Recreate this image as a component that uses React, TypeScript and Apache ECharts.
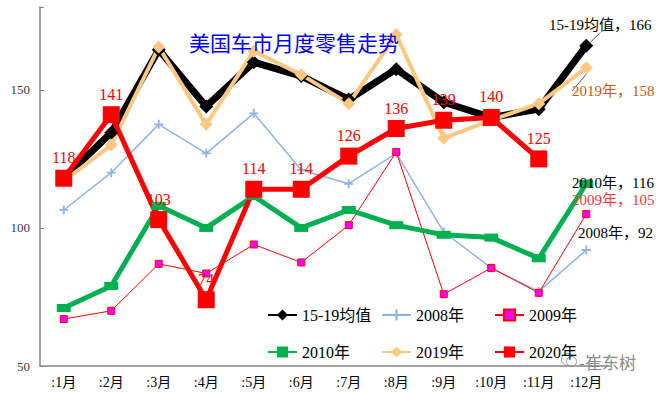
import React, { useEffect, useRef } from "react";
import * as echarts from "echarts";

const months = [":1月", ":2月", ":3月", ":4月", ":5月", ":6月", ":7月", ":8月", ":9月", ":10月", ":11月", ":12月"];
const avg1519 = [118, 134.5, 164.5, 144, 160, 155, 146.5, 157.5, 145.5, 140, 143, 166];
const y2008 = [106.5, 120, 137.5, 127, 141.5, 121, 116, 127, 98.5, 85.5, 77, 92];
const y2009 = [67, 70, 87, 83.5, 94, 87.5, 101, 127.5, 76, 85.5, 76.5, 105];
const y2010 = [71, 79, 108, 100, 111.5, 100, 106.5, 101, 97.5, 96.5, 89, 116];
const y2019 = [117, 130, 165.5, 137.5, 164, 155.5, 145, 170, 132.5, 139, 145, 158];
const y2020 = [118, 141, 103, 74, 114, 114, 126, 136, 139, 140, 125, null];
const yTicks = [50, 100, 150];

const SERIF = '"Times New Roman","Liberation Serif","Noto Sans CJK SC",serif';

function withEndLabel(vals: (number | null)[], text: string, color: string) {
  return vals.map((v, i) =>
    i === vals.length - 1
      ? {
          value: v,
          label: {
            show: true,
            formatter: text + "，{c}",
            color,
            fontSize: 15,
            fontFamily: SERIF,
          },
        }
      : v
  );
}

function endLayout(x: number, y: number) {
  return (p: any) =>
    p.dataIndex === 11 ? { x, y, align: "left", verticalAlign: "middle" } : {};
}

export default function App() {
  const ref = useRef<HTMLDivElement>(null);
  useEffect(() => {
    if (!ref.current) return;
    const chart = echarts.init(ref.current, undefined, { renderer: "svg" });
    const legendPos: [string, number, number][] = [
      ["15-19均值", 262, 302],
      ["2008年", 376, 302],
      ["2009年", 489, 302],
      ["2010年", 262, 339],
      ["2019年", 376, 339],
      ["2020年", 489, 339],
    ];
    chart.setOption({
      animation: false,
      backgroundColor: "#ffffff",
      title: {
        text: "美国车市月度零售走势",
        left: 184,
        top: 26,
        textStyle: {
          color: "#0000FF",
          fontSize: 21,
          fontWeight: "normal",
          fontFamily: '"Noto Sans CJK SC",sans-serif',
        },
      },
      legend: legendPos.map(([name, left, top]) => ({
        data: [name],
        left,
        top,
        itemWidth: 29,
        itemHeight: 14,
        textStyle: { fontSize: 16, fontFamily: SERIF, color: "#000" },
      })),
      grid: { left: 40, right: 51, top: 7, bottom: 27 },
      xAxis: {
        type: "category",
        data: months,
        axisLine: { lineStyle: { color: "#868686", width: 1.5 } },
        axisTick: { inside: true, length: 3, lineStyle: { color: "#868686" } },
        axisLabel: { color: "#000", fontSize: 14, fontFamily: SERIF, margin: 9 },
      },
      yAxis: {
        type: "value",
        min: 50,
        max: 180,
        interval: 50,
        splitLine: { show: false },
        axisLine: { show: true, lineStyle: { color: "#868686", width: 1.5 } },
        axisTick: { show: true, inside: true, length: 4, lineStyle: { color: "#868686" } },
        axisLabel: {
          color: "#404040",
          fontSize: 13,
          fontFamily: SERIF,
          margin: 10,
          formatter: (v: number) => (yTicks.indexOf(v) >= 0 ? String(v) : ""),
        },
      },
      series: [
        {
          name: "15-19均值",
          type: "line",
          data: withEndLabel(avg1519, "15-19均值", "#000"),
          symbol: "diamond",
          symbolSize: 14,
          lineStyle: { color: "#000", width: 7 },
          itemStyle: { color: "#000" },
          label: { show: false },
          labelLayout: endLayout(549, 25),
          labelLine: { show: true, lineStyle: { color: "#595959", width: 1 } },
        },
        {
          name: "2008年",
          type: "line",
          data: withEndLabel(y2008, "2008年", "#000"),
          symbol: "path://M4,0H6V4H10V6H6V10H4V6H0V4H4Z",
          symbolSize: 9,
          lineStyle: { color: "#8EB4E3", width: 1.5 },
          itemStyle: { color: "#8EB4E3" },
          label: { show: false },
          labelLayout: endLayout(578, 233),
        },
        {
          name: "2009年",
          type: "line",
          data: withEndLabel(y2009, "2009年", "#FF3333"),
          symbol: "rect",
          symbolSize: 7,
          lineStyle: { color: "#FF0000", width: 1 },
          itemStyle: { color: "#FF00FF", borderColor: "#FF0000", borderWidth: 1 },
          label: { show: false },
          labelLayout: endLayout(572, 200),
        },
        {
          name: "2010年",
          type: "line",
          data: withEndLabel(y2010, "2010年", "#000"),
          symbol: "rect",
          symbolSize: [14, 8],
          lineStyle: { color: "#00B050", width: 5 },
          itemStyle: { color: "#00B050" },
          label: { show: false },
          labelLayout: endLayout(572, 183),
        },
        {
          name: "2019年",
          type: "line",
          data: withEndLabel(y2019, "2019年", "#C55A11"),
          symbol: "diamond",
          symbolSize: 13,
          lineStyle: { color: "#FAC882", width: 4 },
          itemStyle: { color: "#FAC882" },
          label: { show: false },
          labelLayout: endLayout(572, 91),
          labelLine: { show: true, lineStyle: { color: "#595959", width: 1 } },
        },
        {
          name: "2020年",
          type: "line",
          data: y2020,
          symbol: "rect",
          symbolSize: 17,
          lineStyle: { color: "#FF0000", width: 5 },
          itemStyle: { color: "#FF0000" },
          label: {
            show: true,
            position: "top",
            distance: 4,
            color: "#FF0000",
            fontSize: 16,
            fontFamily: SERIF,
          },
        },
      ],
      graphic: [
        {
          type: "circle",
          left: 559,
          top: 351,
          shape: { r: 6 },
          style: { fill: "none", stroke: "#9a9a9a", lineWidth: 1 },
        },
        {
          type: "circle",
          left: 566,
          top: 356,
          shape: { r: 5 },
          style: { fill: "#fff", stroke: "#9a9a9a", lineWidth: 1 },
        },
        {
          type: "text",
          left: 579,
          top: 353,
          style: {
            text: "-崔东树",
            fill: "#8a8a8a",
            fontSize: 17,
            fontFamily: '"Noto Sans CJK SC",sans-serif',
          },
        },
      ],
    });
    return () => chart.dispose();
  }, []);
  return (
    <div
      ref={ref}
      style={{ position: "absolute", left: 0, top: 0, width: 661, height: 393 }}
    />
  );
}
